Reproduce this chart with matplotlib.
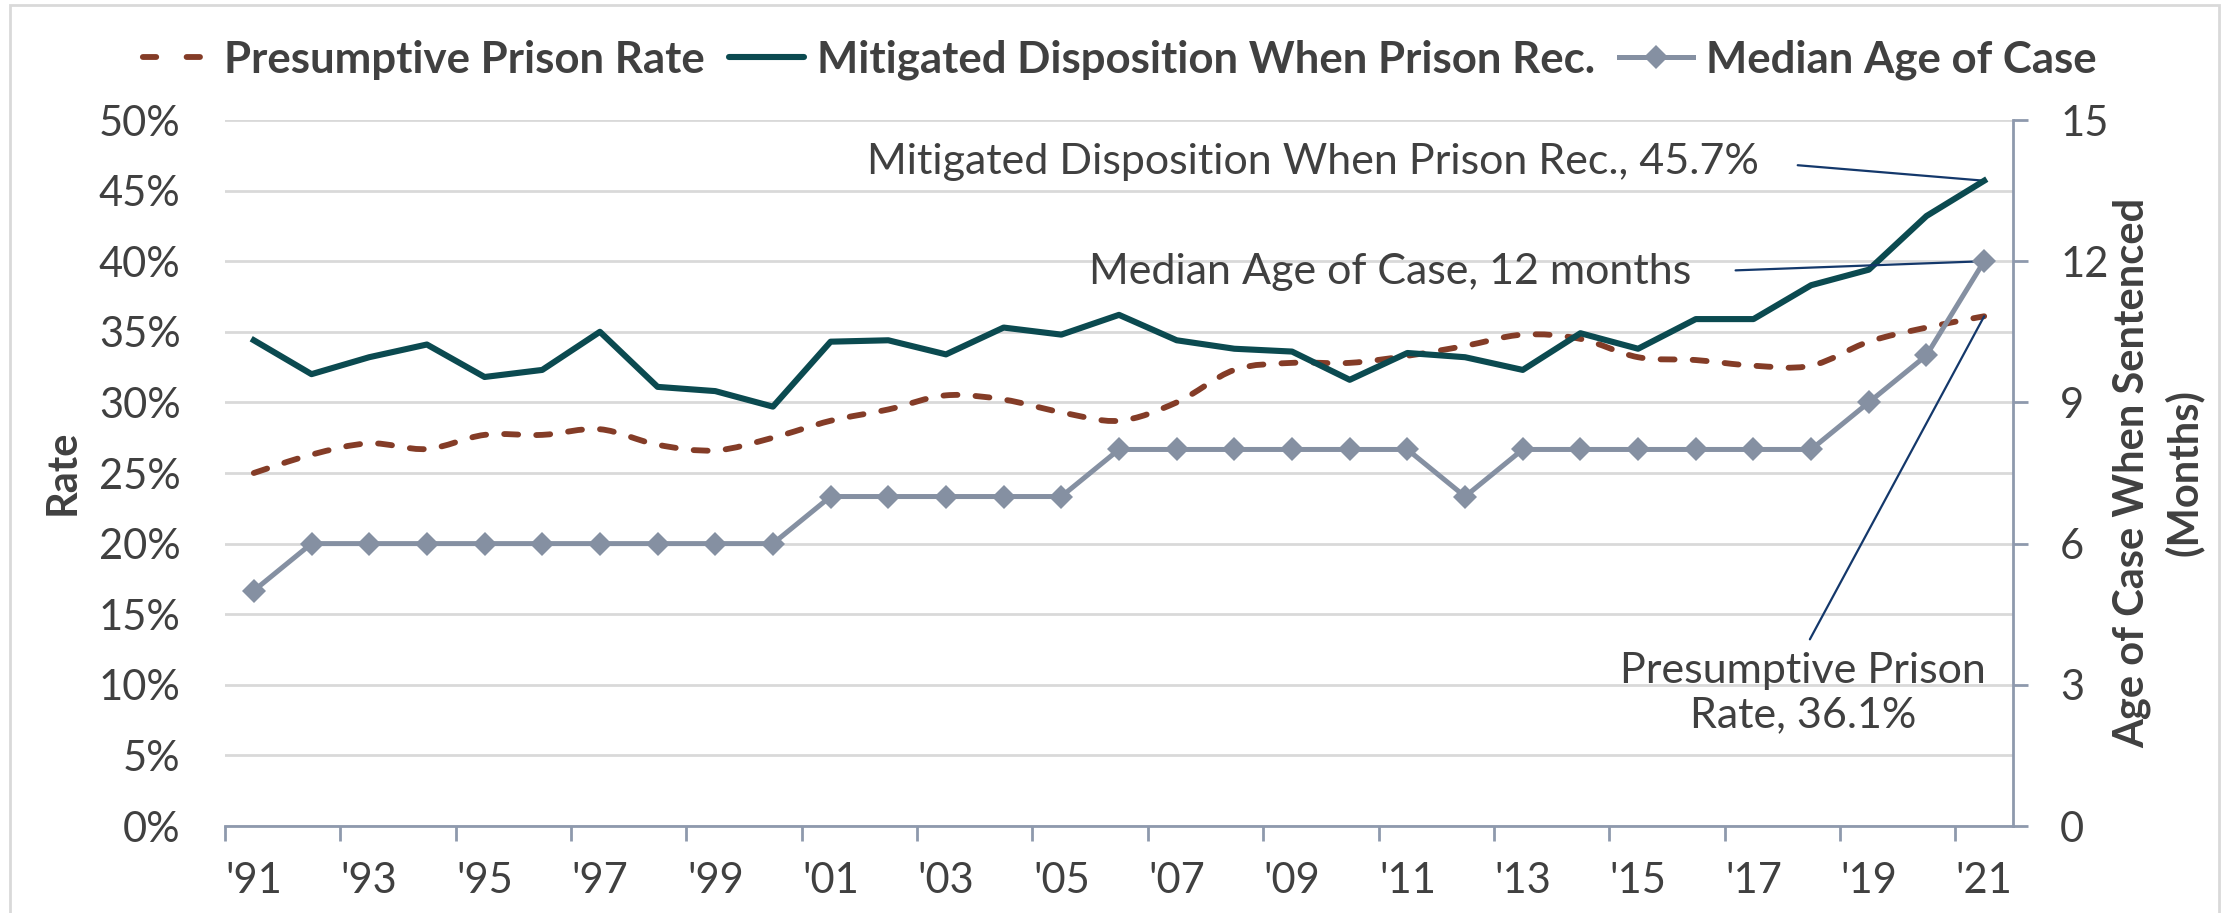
import numpy as np
import matplotlib
matplotlib.use("Agg")
import matplotlib.pyplot as plt
from matplotlib.lines import Line2D
from matplotlib.path import Path
from matplotlib.patches import PathPatch, Rectangle

plt.rcParams['font.family'] = ['Lato', 'DejaVu Sans']

# data
years = list(range(1991, 2022))
year_labels = ["'91", "'93", "'95", "'97", "'99", "'01", "'03", "'05",
               "'07", "'09", "'11", "'13", "'15", "'17", "'19", "'21"]
presumptive = [25.0, 26.3, 27.1, 26.7, 27.7, 27.7, 28.1, 27.0, 26.6, 27.5,
               28.7, 29.5, 30.5, 30.2, 29.3, 28.7, 30.0, 32.3, 32.8, 32.8,
               33.3, 34.0, 34.8, 34.5, 33.2, 33.0, 32.6, 32.6, 34.3, 35.3, 36.1]
mitigated = [34.4, 32.0, 33.2, 34.1, 31.8, 32.3, 35.0, 31.1, 30.8, 29.7,
             34.3, 34.4, 33.4, 35.3, 34.8, 36.2, 34.4, 33.8, 33.6, 31.6,
             33.5, 33.2, 32.3, 34.9, 33.8, 35.9, 35.9, 38.3, 39.4, 43.2, 45.7]
median_age = [5, 6, 6, 6, 6, 6, 6, 6, 6, 6,
              7, 7, 7, 7, 7, 8, 8, 8, 8, 8,
              8, 7, 8, 8, 8, 8, 8, 8, 9, 10, 12]

c_pres = '#843C27'
c_mit = '#0B4A50'
c_med = '#8590A2'
c_txt = '#404040'
c_axis = '#8E99AD'
c_lead = '#14386B'
fs = 30
fs_note = 31


def smooth_path(x, y):
    # excel-style smoothed line (catmull-rom as bezier)
    x = np.asarray(x, float)
    y = np.asarray(y, float)
    px = np.concatenate([[x[0]], x, [x[-1]]])
    py = np.concatenate([[y[0]], y, [y[-1]]])
    verts = [(x[0], y[0])]
    codes = [Path.MOVETO]
    for i in range(len(x) - 1):
        p0 = np.array([px[i], py[i]])
        p1 = np.array([px[i + 1], py[i + 1]])
        p2 = np.array([px[i + 2], py[i + 2]])
        p3 = np.array([px[i + 3], py[i + 3]])
        c1 = p1 + (p2 - p0) / 6
        c2 = p2 - (p3 - p1) / 6
        verts += [tuple(c1), tuple(c2), tuple(p2)]
        codes += [Path.CURVE4] * 3
    return Path(verts, codes)


fig = plt.figure(figsize=(22.34, 9.13), dpi=100)
ax = fig.add_axes([225 / 2234, 1 - 826 / 913, 1788 / 2234, 706 / 913])
ax2 = ax.twinx()

# chart border
fig.patches.append(Rectangle((10 / 2234, -0.05), 2209 / 2234, 1.05 - 5 / 913,
                             transform=fig.transFigure, fill=False,
                             edgecolor='#D9D9D9', lw=2))

dash = (0, (2.4, 3.1))
ax.add_patch(PathPatch(smooth_path(years, presumptive), fill=False,
                       edgecolor=c_pres, lw=4.2, linestyle=dash,
                       capstyle='round', zorder=3))
ax.plot(years, mitigated, color=c_mit, lw=4.4, zorder=4)
ax2.plot(years, median_age, color=c_med, lw=3.6, marker='D', ms=12,
         markeredgewidth=0, zorder=5)

ax.set_xlim(1990.5, 2021.5)
ax.set_ylim(0, 50)
ax2.set_ylim(0, 15)

ax.set_yticks(range(0, 51, 5))
ax.set_yticklabels([f'{v}%' for v in range(0, 51, 5)])
ax2.set_yticks(range(0, 16, 3))

ax.set_xticks(years[::2])
ax.set_xticklabels(year_labels)
ax.set_xticks(np.arange(1990.5, 2021, 2), minor=True)

ax.grid(axis='y', color='#D9D9D9', lw=2)
ax.set_axisbelow(True)

for s in ['left', 'top', 'right']:
    ax.spines[s].set_visible(False)
for s in ['left', 'top', 'bottom']:
    ax2.spines[s].set_visible(False)
ax.spines['bottom'].set_color(c_axis)
ax.spines['bottom'].set_linewidth(2)
ax2.spines['right'].set_color(c_axis)
ax2.spines['right'].set_linewidth(2)

ax.tick_params(axis='y', length=0, pad=32, labelsize=fs, labelcolor=c_txt)
ax.tick_params(axis='x', which='major', length=0, pad=26, labelsize=fs,
               labelcolor=c_txt)
ax.tick_params(axis='x', which='minor', length=11, width=2, color=c_axis)
ax2.tick_params(axis='y', length=11, width=2, color=c_axis, pad=23,
                labelsize=fs, labelcolor=c_txt)

fig.text(63 / 2234, 1 - 472 / 913, 'Rate', rotation=90, ha='center',
         va='center', fontsize=fs, fontweight='bold', color=c_txt)
fig.text(2158 / 2234, 1 - 473 / 913, 'Age of Case When Sentenced\n(Months)',
         rotation=90, ha='center', va='center', fontsize=fs,
         fontweight='bold', color=c_txt, linespacing=1.4)

# data labels with leader lines
ax.annotate(f'Mitigated Disposition When Prison Rec., {mitigated[-1]:.1f}%',
            xy=(years[-1], mitigated[-1]), xytext=(0.6085, 0.9405),
            textcoords='axes fraction', ha='center', va='center',
            fontsize=fs_note, color=c_txt,
            arrowprops=dict(arrowstyle='-', color=c_lead, lw=1.6,
                            relpos=(1, 0.5), shrinkA=26, shrinkB=0))
ax2.annotate(f'Median Age of Case, {median_age[-1]} months',
             xy=(years[-1], median_age[-1]), xytext=(0.6516, 0.7847),
             textcoords='axes fraction', ha='center', va='center',
             fontsize=fs_note, color=c_txt,
             arrowprops=dict(arrowstyle='-', color=c_lead, lw=1.6,
                             relpos=(1, 0.5), shrinkA=30, shrinkB=0))
ax.annotate(f'Presumptive Prison\nRate, {presumptive[-1]:.1f}%',
            xy=(years[-1], presumptive[-1]), xytext=(0.8826, 0.1884),
            textcoords='axes fraction', ha='center', va='center',
            fontsize=fs_note, color=c_txt, linespacing=1.2,
            arrowprops=dict(arrowstyle='-', color=c_lead, lw=1.6,
                            relpos=(0.5, 1), shrinkA=8, shrinkB=0))

handles = [
    Line2D([], [], color=c_pres, lw=4.2, linestyle=(-1.0, (2.3, 5.2)),
           dash_capstyle='round'),
    Line2D([], [], color=c_mit, lw=4.4, solid_capstyle='round'),
    Line2D([], [], color=c_med, lw=3.6, marker='D', ms=12, markeredgewidth=0),
]
labels = ['Presumptive Prison Rate', 'Mitigated Disposition When Prison Rec.',
          'Median Age of Case']
leg = fig.legend(handles, labels, loc='center', bbox_to_anchor=(0.5, 1 - 60 / 913),
                 ncol=3, frameon=False, handlelength=1.7, handletextpad=0.3,
                 columnspacing=0.55, prop={'size': 31.5, 'weight': 'bold'})
for t in leg.get_texts():
    t.set_color(c_txt)

fig.savefig('out.png', dpi=100)
